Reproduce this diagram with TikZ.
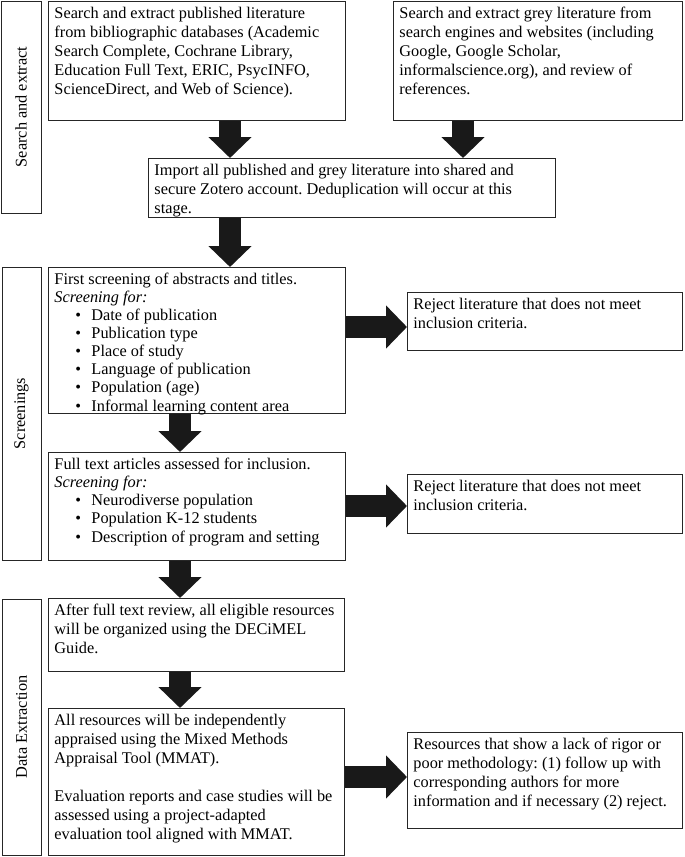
\documentclass[tikz,border=0pt]{standalone}
\usepackage{xcolor}
\usepackage{fontspec}
\setmainfont{Liberation Serif}
\usepackage{tikz}
\usetikzlibrary{arrows.meta}
\tikzset{
  font={\fontsize{16.3pt}{19pt}\selectfont\frenchspacing}}
\newcommand{\bitem}{\\\hspace*{21pt}\makebox[16pt][l]{\textbullet}}

\begin{document}
\begin{tikzpicture}[x=1pt, y=-1pt]

    \tikzset{box/.style 2 args = {draw=black!85, line width=0.9pt, anchor=north west, inner sep=6pt,
        execute at begin node={\begin{minipage}[t][#2][t]{#1}\raggedright},
        execute at end node={\end{minipage}}}}
    \tikzset{stage/.style 2 args = {draw=black!85, line width=0.9pt, rotate=90, inner sep=0pt,
        minimum width=#1, minimum height=#2}}
    \tikzset{bigarrow/.style = {-{Triangle[width=42pt, length=21pt]}, line width=22pt, draw=black!90}}

    \useasboundingbox (0,0) rectangle (685,857);

    % stages
    \node[stage={212pt}{40pt}] (se) at (21,107) {Search and extract};
    \node[stage={293pt}{39pt}] (sc) at (21.5,413.5) {Screenings};
    \node[stage={256pt}{39pt}] (de) at (21.5,727) {Data Extraction};

    % vertices
    \node[box={285pt}{107pt}] (pub) at (48,1) {Search and extract published literature\\
        from bibliographic databases (Academic\\ Search Complete, Cochrane Library,\\
        Education Full Text, ERIC, PsycINFO,\\ ScienceDirect, and Web of Science).};
    \node[box={277pt}{107pt}] (grey) at (393,1) {Search and extract grey literature from\\
        search engines and websites (including\\ Google, Google Scholar,\\
        informalscience.org), and review of\\ references.};
    \node[box={395pt}{47pt}] (imp) at (148,158) {Import all published and grey literature into shared and\\
        secure Zotero account. Deduplication will occur at this\\ stage.};
    \node[box={285pt}{134pt}] (scr1) at (48,267) {\fontsize{16.3pt}{18pt}\selectfont
        First screening of abstracts and titles.\\ \textit{Screening for:}
        \bitem Date of publication \bitem Publication type \bitem Place of study
        \bitem Language of publication \bitem Population (age) \bitem Informal learning content area};
    \node[box={285pt}{96pt}] (scr2) at (48,452) {\fontsize{16.3pt}{18pt}\selectfont
        Full text articles assessed for inclusion.\\ \textit{Screening for:}
        \bitem Neurodiverse population \bitem Population K-12 students
        \bitem Description of program and setting};
    \node[box={284pt}{61pt}] (ext1) at (48,598) {After full text review, all eligible resources\\
        will be organized using the DECiMEL\\ Guide.};
    \node[box={284pt}{135pt}] (ext2) at (48,708) {All resources will be independently\\
        appraised using the Mixed Methods\\ Appraisal Tool (MMAT).\\[19pt]
        Evaluation reports and case studies will be\\ assessed using a project-adapted\\
        evaluation tool aligned with MMAT.};
    \node[box={263pt}{46pt}] (rej1) at (407,292) {Reject literature that does not meet\\ inclusion criteria.};
    \node[box={263pt}{47pt}] (rej2) at (407,474) {Reject literature that does not meet\\ inclusion criteria.};
    \node[box={263pt}{84pt}] (rej3) at (407,732) {Resources that show a lack of rigor or\\
        poor methodology: (1) follow up with\\ corresponding authors for more\\
        information and if necessary (2) reject.};

    % arrow columns and rows
    \coordinate (c1) at (230,0);
    \coordinate (c2) at (463,0);
    \coordinate (c3) at (180,0);
    \coordinate (r1) at (0,327);
    \coordinate (r2) at (0,506);
    \coordinate (r3) at (0,777);

    % edges
    \draw[bigarrow] (pub.south -| c1) -- (imp.north -| c1);
    \draw[bigarrow] (grey.south -| c2) -- (imp.north -| c2);
    \draw[bigarrow] (imp.south -| c1) -- (scr1.north -| c1);
    \draw[bigarrow] (scr1.south -| c3) -- (scr2.north -| c3);
    \draw[bigarrow] (scr2.south -| c3) -- (ext1.north -| c3);
    \draw[bigarrow] (ext1.south -| c3) -- (ext2.north -| c3);
    \draw[bigarrow] (scr1.east |- r1) -- (rej1.west |- r1);
    \draw[bigarrow] (scr2.east |- r2) -- (rej2.west |- r2);
    \draw[bigarrow] (ext2.east |- r3) -- (rej3.west |- r3);

\end{tikzpicture}
\end{document}
